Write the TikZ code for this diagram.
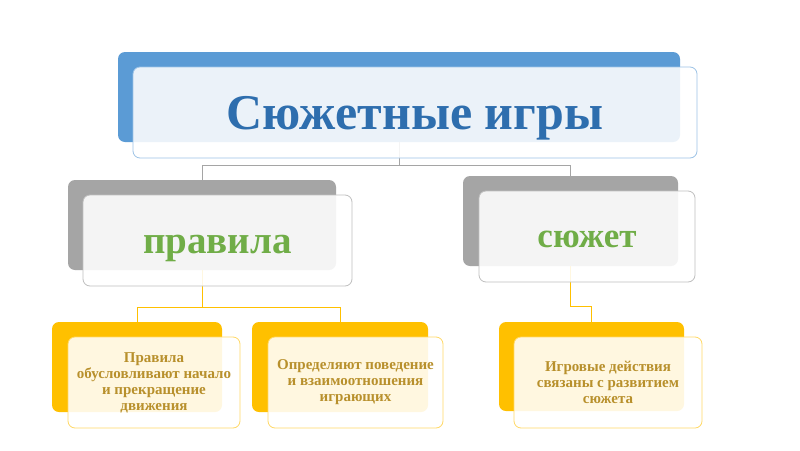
\documentclass[tikz,border=0pt]{standalone}
\usepackage{fontspec}
\setmainfont{Liberation Serif}
\definecolor{blueback}{HTML}{5B9BD5}
\definecolor{bluefront}{HTML}{9DC3E6}
\definecolor{titleblue}{HTML}{2E6EAE}
\definecolor{grayback}{HTML}{A5A5A5}
\definecolor{grayfront}{HTML}{BFBFBF}
\definecolor{greentext}{HTML}{70AD47}
\definecolor{goldback}{HTML}{FFC000}
\definecolor{goldfront}{HTML}{FFD966}
\definecolor{goldtext}{HTML}{B8902C}
\begin{document}
\begin{tikzpicture}[x=1pt,y=-1pt,
  backbox/.style={rectangle, rounded corners=7pt, draw=none, inner sep=0pt},
  frontbox/.style={rectangle, rounded corners=7pt, fill=white, fill opacity=0.88, text opacity=1, line width=0.8pt, inner sep=0pt, align=center},
  grayline/.style={draw=grayback, line width=0.8pt},
  goldline/.style={draw=goldback, line width=0.8pt},
  smalltext/.style={font=\fontsize{15}{16}\selectfont\bfseries, text=goldtext}
]
\useasboundingbox (0,0) rectangle (800,450);
\fill[white] (0,0) rectangle (800,450);

% back boxes
\node[backbox, fill=blueback, minimum width=562pt, minimum height=90pt] (tb) at (399,97) {};
\node[backbox, fill=grayback, minimum width=268pt, minimum height=90pt] (lb) at (202,225) {};
\node[backbox, fill=grayback, minimum width=215pt, minimum height=90pt] (rb) at (570.5,221) {};
\node[backbox, fill=goldback, minimum width=170pt, minimum height=90pt] (y1b) at (137,367) {};
\node[backbox, fill=goldback, minimum width=176pt, minimum height=90pt] (y2b) at (340,367) {};
\node[backbox, fill=goldback, minimum width=185pt, minimum height=89pt] (y3b) at (591.5,366.5) {};

% connectors
\coordinate (g1) at (399,165);
\coordinate (o1) at (202,307);
\coordinate (o2) at (570.5,306);
\draw[grayline] (tb.south) -- (g1) -| (lb.north);
\draw[grayline] (g1) -| (rb.north);
\draw[goldline] (lb.south) -- (o1) -| (y1b.north);
\draw[goldline] (o1) -| (y2b.north);
\draw[goldline] (rb.south) -- (o2) -| (y3b.north);

% front boxes
\node[frontbox, draw=bluefront, minimum width=564pt, minimum height=91pt,
  font=\fontsize{50}{60}\selectfont\bfseries, text=titleblue,
  text height=33pt, text depth=0pt] (tf) at (415,112.5) {Сюжетные игры};
\node[frontbox, draw=grayfront, minimum width=269pt, minimum height=91pt,
  font=\fontsize{39}{46}\selectfont\bfseries, text=greentext,
  text height=25pt, text depth=0pt] (lf) at (217.5,240.5) {правила};
\node[frontbox, draw=grayfront, minimum width=216pt, minimum height=91pt,
  font=\fontsize{35}{42}\selectfont\bfseries, text=greentext,
  text height=21pt, text depth=0pt] (rf) at (587,236.5) {сюжет};
\node[frontbox, draw=goldfront, minimum width=172pt, minimum height=91pt, smalltext] (y1f) at (154,382.5)
  {Правила\\обусловливают начало\\и прекращение\\движения};
\node[frontbox, draw=goldfront, minimum width=175pt, minimum height=91pt, smalltext] (y2f) at (355.5,382.5)
  {Определяют поведение\\и взаимоотношения\\играющих};
\node[frontbox, draw=goldfront, minimum width=188pt, minimum height=91pt, smalltext] (y3f) at (608,382.5)
  {Игровые действия\\связаны с развитием\\сюжета};
\end{tikzpicture}
\end{document}
